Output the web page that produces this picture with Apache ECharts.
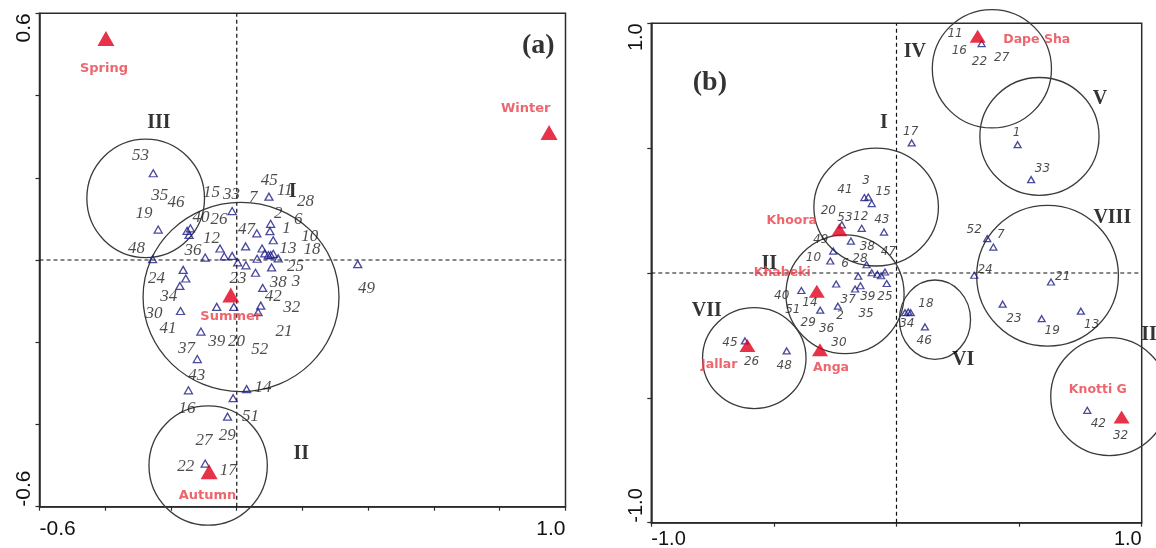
<!DOCTYPE html>
<html>
<head>
<meta charset="utf-8">
<title>CCA biplots</title>
<script src="https://cdn.jsdelivr.net/npm/echarts@6/dist/echarts.min.js"></script>
<style>
    html, body { margin: 0; padding: 0; background: #fff; }
    #chart { width: 1156px; height: 548px; }
</style>
</head>
<body>
<div id="chart"></div>
<script>
// ---------- panel (a): seasons ----------
const seasonNames = ['Spring', 'Summer', 'Autumn', 'Winter'];
const seasonX = [-0.398, -0.018, -0.084, 0.950];
const seasonY = [0.539, -0.085, -0.515, 0.310];
// where the season names are written
const seasonTextX = [-0.404, -0.018, -0.089, 0.879];
const seasonTextY = [0.466, -0.138, -0.573, 0.369];

// species triangles (a)
const spAX = [-0.254, -0.239, -0.151, -0.141, -0.145, -0.256, -0.014, 0.098, 0.103, 0.101, 0.111, 0.061, 0.027, -0.051, -0.038,
    -0.014, -0.096, 0.003, 0.028, 0.062, 0.077, 0.085, 0.096, 0.103, 0.111, 0.126, 0.106, 0.057, -0.163, -0.155,
    -0.173, 0.079, 0.073, 0.065, -0.061, -0.009, -0.171, -0.109, -0.120, -0.147, 0.030, -0.011, -0.028, -0.096, 0.368];
const spAY = [0.211, 0.074, 0.071, 0.077, 0.061, 0.002, 0.119, 0.154, 0.088, 0.070, 0.048, 0.065, 0.033, 0.028, 0.009,
    0.010, 0.006, -0.006, -0.013, 0.003, 0.028, 0.016, 0.012, 0.012, 0.015, 0.004, -0.018, -0.031, -0.024, -0.045,
    -0.063, -0.068, -0.111, -0.127, -0.114, -0.114, -0.124, -0.174, -0.241, -0.317, -0.314, -0.336, -0.381, -0.495, -0.010];

// species numbers (a)
const spANames = ['53', '35', '46', '19', '48', '15', '33', '7', '45', '11', '28', '2', '6', '40', '26', '47', '1', '10', '12', '13',
    '18', '36', '25', '23', '38', '3', '24', '49', '34', '42', '32', '30', '41', '21', '39', '20', '52', '37', '43', '14',
    '16', '51', '29', '27', '22', '17'];
const spANameX = [-0.293, -0.234, -0.185, -0.282, -0.305, -0.077, -0.016, 0.050, 0.099, 0.146, 0.209, 0.126, 0.187, -0.109, -0.054,
    0.030, 0.151, 0.222, -0.077, 0.156, 0.229, -0.133, 0.179, 0.004, 0.126, 0.180, -0.244, 0.395, -0.207, 0.111,
    0.167, -0.252, -0.209, 0.144, -0.061, -0.001, 0.070, -0.153, -0.122, 0.080, -0.151, 0.042, -0.029, -0.100, -0.155, -0.026];
const spANameY = [0.254, 0.158, 0.139, 0.112, 0.028, 0.164, 0.160, 0.152, 0.193, 0.170, 0.142, 0.114, 0.099, 0.104, 0.099,
    0.075, 0.077, 0.058, 0.053, 0.028, 0.026, 0.023, -0.015, -0.045, -0.055, -0.053, -0.045, -0.069, -0.089, -0.089,
    -0.116, -0.130, -0.166, -0.174, -0.199, -0.199, -0.217, -0.215, -0.282, -0.310, -0.361, -0.381, -0.426, -0.438, -0.503, -0.511];

// groups (a): centre and radius in axis units
const groupANames = ['III', 'I', 'II'];
const groupAX = [-0.277, 0.013, -0.087];
const groupAY = [0.150, -0.090, -0.500];
const groupARx = [0.179, 0.298, 0.180];
const groupARy = [0.144, 0.230, 0.145];
const groupATextX = [-0.237, 0.170, 0.196];
const groupATextY = [0.334, 0.165, -0.472];

// ---------- panel (b): sites ----------
const siteNames = ['Dape Sha', 'Khoora', 'Khabeki', 'Anga', 'Jallar', 'Knotti G'];
const siteX = [0.331, -0.233, -0.325, -0.312, -0.608, 0.918];
const siteY = [0.948, 0.173, -0.073, -0.307, -0.290, -0.577];
const siteTextX = [0.572, -0.427, -0.466, -0.267, -0.723, 0.821];
const siteTextY = [0.935, 0.208, 0.000, -0.379, -0.366, -0.466];

// species triangles (b)
const spBX = [0.347, 0.062, 0.494, 0.549, 0.370, 0.395, 0.317, 0.630, 0.433, 0.592, 0.752, 0.778, 0.035, 0.048, 0.058,
    0.116, -0.131, -0.115, -0.101, -0.142, -0.051, -0.223, -0.186, -0.258, -0.270, -0.122, -0.101, -0.078, -0.063, -0.047,
    -0.040, -0.156, -0.147, -0.169, -0.246, -0.388, -0.311, -0.239, -0.618, -0.448];
const spBY = [0.919, 0.521, 0.514, 0.374, 0.138, 0.104, -0.009, -0.036, -0.125, -0.183, -0.153, -0.550, -0.159, -0.156, -0.159,
    -0.216, 0.302, 0.304, 0.278, 0.179, 0.164, 0.193, 0.128, 0.088, 0.048, 0.033, 0.001, -0.005, -0.011, 0.004,
    -0.042, -0.013, -0.051, -0.064, -0.044, -0.070, -0.149, -0.133, -0.272, -0.312];

// species numbers (b)
const spBNames = ['11', '16', '22', '27', '17', '1', '33', '52', '7', '24', '21', '18', '34', '46', '23', '19', '13', '42', '32', '3',
    '41', '15', '20', '53', '12', '43', '49', '38', '47', '10', '28', '6', '40', '37', '39', '25', '14', '51', '2', '35',
    '29', '36', '30', '45', '26', '48'];
const spBNameX = [0.239, 0.256, 0.338, 0.429, 0.058, 0.490, 0.595, 0.317, 0.425, 0.361, 0.678, 0.120, 0.042, 0.113, 0.479,
    0.635, 0.796, 0.823, 0.914, -0.124, -0.210, -0.054, -0.278, -0.210, -0.146, -0.060, -0.309, -0.119, -0.033, -0.339,
    -0.149, -0.210, -0.468, -0.197, -0.117, -0.047, -0.353, -0.423, -0.230, -0.124, -0.360, -0.285, -0.235, -0.679, -0.591, -0.458];
const spBNameY = [0.959, 0.888, 0.845, 0.861, 0.567, 0.561, 0.418, 0.171, 0.154, 0.014, -0.016, -0.125, -0.205, -0.272, -0.183,
    -0.232, -0.207, -0.603, -0.654, 0.367, 0.331, 0.324, 0.248, 0.222, 0.224, 0.211, 0.134, 0.104, 0.084, 0.062,
    0.058, 0.035, -0.092, -0.107, -0.096, -0.096, -0.120, -0.149, -0.173, -0.163, -0.200, -0.223, -0.280, -0.280, -0.354, -0.372];

// groups (b)
const groupBNames = ['IV', 'V', 'I', 'VIII', 'II', 'VII', 'VI', 'II'];
const groupBX = [0.389, 0.583, -0.083, 0.616, -0.210, -0.580, 0.157, 0.869];
const groupBY = [0.818, 0.547, 0.264, -0.011, -0.085, -0.341, -0.187, -0.495];
const groupBRx = [0.243, 0.243, 0.254, 0.289, 0.241, 0.211, 0.145, 0.240];
const groupBRy = [0.237, 0.236, 0.236, 0.282, 0.238, 0.202, 0.159, 0.236];
const groupBTextX = [0.075, 0.830, -0.051, 0.880, -0.519, -0.774, 0.272, 1.030];
const groupBTextY = [0.885, 0.698, 0.601, 0.222, 0.038, -0.152, -0.347, -0.249];

// panel tags
const panelTags = ['(a)', '(b)'];
const panelTagX = [0.917, -0.761];
const panelTagY = [0.522, 0.761];

// ---------- helpers ----------
const AXIS_COLOR = '#2b2b2b';

function endLabel(min, max) {
    return function (v) {
        if (Math.abs(v - min) < 1e-6 || Math.abs(v - max) < 1e-6) {
            return (+v).toFixed(1);
        }
        return '';
    };
}

function makeX(grid, min, max, step, margin, size) {
    return {
        gridIndex: grid, type: 'value', min: min, max: max, interval: step,
        axisLine: {show: true, onZero: false, lineStyle: {color: AXIS_COLOR, width: 1.5}},
        axisTick: {show: true, length: 4, lineStyle: {color: AXIS_COLOR, width: 1.2}},
        splitLine: {show: false},
        axisLabel: {
            formatter: endLabel(min, max), fontSize: size, fontFamily: 'Liberation Sans', color: '#111',
            margin: margin, alignMinLabel: 'left', alignMaxLabel: 'right', showMinLabel: true, showMaxLabel: true
        }
    };
}

function makeY(grid, min, max, step, size) {
    return {
        gridIndex: grid, type: 'value', min: min, max: max, interval: step,
        axisLine: {show: true, onZero: false, lineStyle: {color: AXIS_COLOR, width: 1.5}},
        axisTick: {show: true, length: 4, lineStyle: {color: AXIS_COLOR, width: 1.2}},
        splitLine: {show: false},
        axisLabel: {
            formatter: endLabel(min, max), fontSize: size, fontFamily: 'Liberation Sans', color: '#111',
            rotate: 90, margin: 5, alignMinLabel: 'left', alignMaxLabel: 'right', showMinLabel: true, showMaxLabel: true
        }
    };
}

// text placed at data coordinates
function textSeries(idx, names, xs, ys, font, z) {
    return {
        type: 'scatter', xAxisIndex: idx, yAxisIndex: idx, silent: true, clip: false, z: z || 6,
        symbol: 'circle', symbolSize: 1, itemStyle: {color: 'rgba(0,0,0,0)'},
        emphasis: {disabled: true},
        label: Object.assign({show: true, position: 'inside', formatter: p => p.data[2]}, font),
        data: names.map((n, i) => [xs[i], ys[i], n])
    };
}

function pointSeries(idx, xs, ys, size, style, z) {
    return {
        type: 'scatter', xAxisIndex: idx, yAxisIndex: idx, silent: true, clip: false, z: z,
        symbol: 'triangle', symbolSize: size, itemStyle: style,
        emphasis: {disabled: true},
        data: xs.map((x, i) => [x, ys[i]])
    };
}

function ringSeries(idx, xs, ys, rxs, rys) {
    return {
        type: 'custom', xAxisIndex: idx, yAxisIndex: idx, silent: true, clip: false, z: 3,
        data: xs.map((x, i) => [x, ys[i], rxs[i], rys[i]]),
        renderItem: function (params, api) {
            const c = api.coord([api.value(0), api.value(1)]);
            const s = api.size([api.value(2), api.value(3)]);
            return {
                type: 'ellipse',
                shape: {cx: c[0], cy: c[1], rx: s[0], ry: s[1]},
                style: {fill: 'none', stroke: '#3a3a3a', lineWidth: 1.3}
            };
        }
    };
}

function zeroLines(idx, xmin, xmax, ymin, ymax) {
    const dash = {color: '#111', width: 1.2, type: [4, 3]};
    return [{
        type: 'line', xAxisIndex: idx, yAxisIndex: idx, silent: true, symbol: 'none', z: 2,
        lineStyle: dash, data: [[0, ymin], [0, ymax]]
    }, {
        type: 'line', xAxisIndex: idx, yAxisIndex: idx, silent: true, symbol: 'none', z: 2,
        lineStyle: dash, data: [[xmin, 0], [xmax, 0]]
    }];
}

const speciesStyle = {color: 'rgba(0,0,0,0)', borderColor: '#1b1b86', borderWidth: 1.3};
const redStyle = {color: '#e0001b'};
const numA = {fontFamily: 'Liberation Serif', fontStyle: 'italic', fontSize: 17, color: '#1e1e1e'};
const numB = {fontFamily: 'DejaVu Sans', fontStyle: 'italic', fontSize: 12, color: '#1e1e1e'};
const redA = {fontFamily: 'DejaVu Sans', fontWeight: 'bold', fontSize: 13, color: '#e8404a'};
const redB = {fontFamily: 'DejaVu Sans', fontWeight: 'bold', fontSize: 12.5, color: '#e8404a'};
const roman = {fontFamily: 'Liberation Serif', fontWeight: 'bold', fontSize: 20, color: '#000'};
const tag = {fontFamily: 'Liberation Serif', fontWeight: 'bold', fontSize: 28, color: '#000'};

let chart = echarts.init(document.getElementById('chart'), null, {renderer: 'canvas'});

let option = {
    backgroundColor: '#fff',
    animation: false,
    grid: [
        {left: 39.5, top: 13.3, width: 526, height: 493.4, show: true, borderColor: AXIS_COLOR, borderWidth: 1.5,
            backgroundColor: 'transparent', outerBoundsMode: 'none'},
        {left: 651.3, top: 23.3, width: 490.4, height: 499.4, show: true, borderColor: AXIS_COLOR, borderWidth: 1.5,
            backgroundColor: 'transparent', outerBoundsMode: 'none'}
    ],
    xAxis: [makeX(0, -0.6, 1.0, 0.2, 12, 21), makeX(1, -1.0, 1.0, 0.5, 7, 20)],
    yAxis: [makeY(0, -0.6, 0.6, 0.2, 21), makeY(1, -1.0, 1.0, 0.5, 20)],
    series: [].concat(
        zeroLines(0, -0.6, 1.0, -0.6, 0.6),
        zeroLines(1, -1.0, 1.0, -1.0, 1.0),
        [
            ringSeries(0, groupAX, groupAY, groupARx, groupARy),
            ringSeries(1, groupBX, groupBY, groupBRx, groupBRy),
            pointSeries(0, spAX, spAY, [8, 7], speciesStyle, 4),
            pointSeries(1, spBX, spBY, [7, 6], speciesStyle, 4),
            textSeries(0, spANames, spANameX, spANameY, numA),
            textSeries(1, spBNames, spBNameX, spBNameY, numB),
            textSeries(0, groupANames, groupATextX, groupATextY, roman),
            textSeries(1, groupBNames, groupBTextX, groupBTextY, roman),
            textSeries(0, seasonNames, seasonTextX, seasonTextY, redA, 7),
            textSeries(1, siteNames, siteTextX, siteTextY, redB, 7),
            pointSeries(0, seasonX, seasonY, [17, 15], redStyle, 8),
            pointSeries(1, siteX, siteY, [16, 13], redStyle, 8),
            textSeries(0, [panelTags[0]], [panelTagX[0]], [panelTagY[0]], tag),
            textSeries(1, [panelTags[1]], [panelTagX[1]], [panelTagY[1]], tag)
        ]
    )
};

chart.setOption(option);
</script>
</body>
</html>
